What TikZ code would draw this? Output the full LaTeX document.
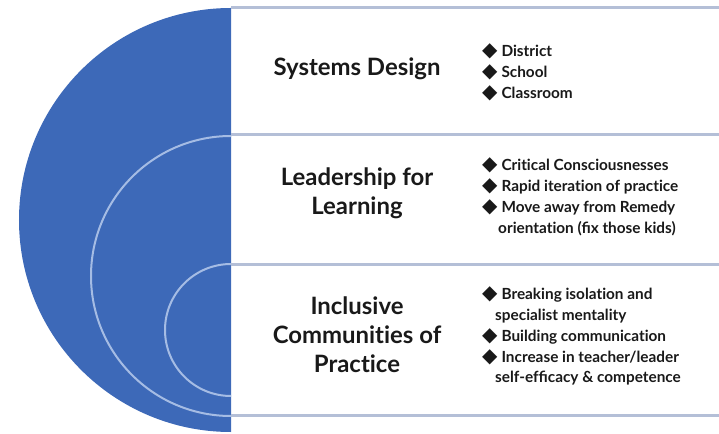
\documentclass[tikz,border=0pt]{standalone}
\usepackage{fontspec}
\setmainfont{Lato}[Ligatures=NoCommon]
\newfontfamily\dejavu{DejaVu Sans}
\definecolor{discblue}{RGB}{61,105,184}
\definecolor{arcblue}{RGB}{165,188,228}
\definecolor{rulegray}{RGB}{180,191,215}
\tikzset{
  title/.style={font=\bfseries\fontsize{24}{29}\selectfont, align=center, text=black!90, inner sep=0},
  items/.style={font=\bfseries\fontsize{15.4}{21}\selectfont, align=left, anchor=west, inner sep=0, text=black!90},
  rule/.style={draw=rulegray, line width=3bp},
  ring/.style={draw=arcblue, line width=2bp},
}
\newcommand\dia{{\dejavu\fontsize{20}{21}\selectfont ◆}\hspace{4bp}}
\begin{document}
\begin{tikzpicture}[x=1bp,y=-1bp]
\useasboundingbox (0,0) rectangle (719,434);
\begin{scope}
  \clip (0,0) rectangle (231,434);
  \fill[discblue] (231,220) circle[radius=212bp];
  \draw[ring] (231,276) circle[radius=140bp];
  \draw[ring] (231,330) circle[radius=66bp];
\end{scope}
\draw[rule] (231,8) -- (719,8);
\draw[rule] (231,135) -- (719,135);
\draw[rule] (231,265) -- (719,265);
\draw[rule] (231,415) -- (719,415);

\node[title] (t1) at (357,69) {Systems Design};
\node[title] (t2) at (357,193) {Leadership for\\Learning};
\node[title] (t3) at (357,335) {Inclusive\\Communities of\\Practice};

\node[items] (l1) at (482,72) {\dia District\\\dia School\\\dia Classroom};
\node[items] (l2) at (482,197) {\dia Critical Consciousnesses\\\dia Rapid iteration of practice\\\dia Move away from Remedy\\\hspace{16bp}orientation (ﬁx those kids)};
\node[items] (l3) at (482,336) {\dia Breaking isolation and\\\hspace{13bp}specialist mentality\\\dia Building communication\\\dia Increase in teacher/leader\\\hspace{13bp}self-efﬁcacy \& competence};
\end{tikzpicture}
\end{document}
